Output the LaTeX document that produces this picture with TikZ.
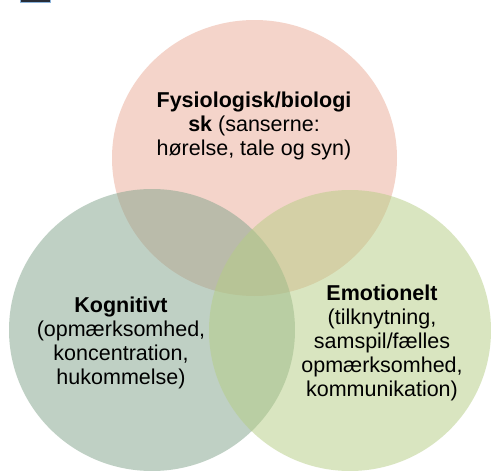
\documentclass[tikz,border=0pt]{standalone}
\usepackage{fontspec}
\setmainfont{Liberation Sans}
\definecolor{topc}{RGB}{235,170,150}
\definecolor{leftc}{RGB}{129,163,139}
\definecolor{rightc}{RGB}{181,205,131}
\definecolor{logodark}{RGB}{40,45,55}
\definecolor{logoblue}{RGB}{140,180,220}
\tikzset{
  venn/.style={fill opacity=0.5, draw=none},
  lbl/.style={align=center, text=black, font=\fontsize{21.5pt}{23.8pt}\selectfont, inner sep=0pt}
}
\begin{document}
\begin{tikzpicture}[x=1pt,y=-1pt]
\useasboundingbox (0,0) rectangle (491,471);
\fill[white] (0,0) rectangle (491,471);
\filldraw[fill=logodark, draw=logoblue, line width=0.8pt] (20,-3) rectangle (50,2);
\fill[venn, topc] (254.5,158) ellipse [x radius=142.5, y radius=138];
\fill[venn, leftc] (152,330) ellipse [x radius=143, y radius=141];
\fill[venn, rightc] (350,330.5) ellipse [x radius=141, y radius=140.5];
\node[lbl] (phys) at (254,126) {\textbf{Fysiologisk/biologi}\\\textbf{sk} (sanserne:\\hørelse, tale og syn)};
\node[lbl] (kog) at (121,343) {\textbf{Kognitivt}\\(opmærksomhed,\\koncentration,\\hukommelse)};
\node[lbl] (emo) at (382,343) {\textbf{Emotionelt}\\(tilknytning,\\samspil/fælles\\opmærksomhed,\\kommunikation)};
\end{tikzpicture}
\end{document}
